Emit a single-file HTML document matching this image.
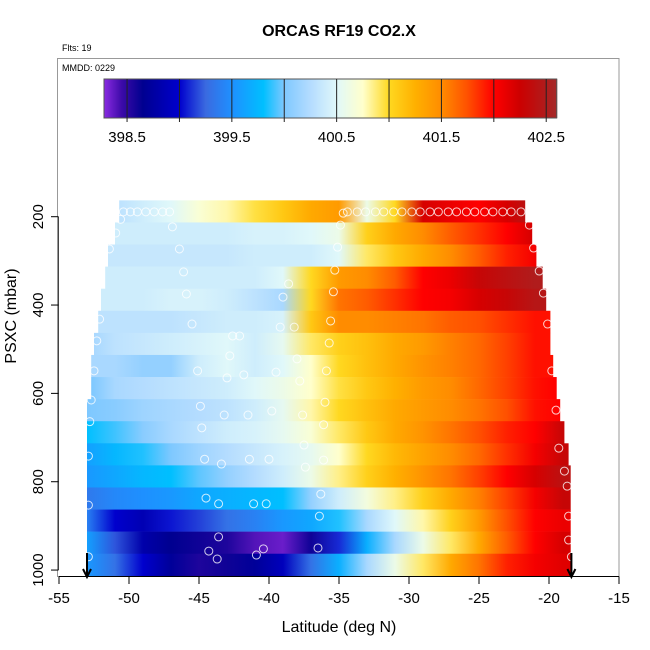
<!DOCTYPE html>
<html><head><meta charset="utf-8"><style>
body{margin:0;background:#fff;width:650px;height:650px;overflow:hidden}
svg{display:block;font-family:"Liberation Sans",Arial,sans-serif}
</style></head><body>
<svg id="chart" width="650" height="650" viewBox="0 0 650 650" xmlns="http://www.w3.org/2000/svg">
<rect width="650" height="650" fill="#fff"/>
<text x="339" y="36" text-anchor="middle" font-size="16" font-weight="bold">ORCAS RF19 CO2.X</text>
<text x="62" y="51" font-size="9">Flts: 19</text>
<text x="62" y="71" font-size="9">MMDD: 0229</text>
<g id="heat"></g>
<g id="pts"></g>
<g id="cbar"></g>
<g id="axes"></g>
<text x="339" y="632" text-anchor="middle" font-size="16">Latitude (deg N)</text>
<text transform="translate(16,316) rotate(-90)" text-anchor="middle" font-size="16">PSXC (mbar)</text>
</svg>
<script>
const lonNodes=[-53,-51,-49,-47,-45,-43,-41,-39,-37,-35,-33,-31,-29,-27,-25,-23,-21,-19];
const rowPressureTop=[163,213,263,313,363,413,463,513,563,613,663,713,763,813,863,913,963];
const rowLeft=[-50.7,-51.0,-51.5,-51.7,-52.0,-52.2,-52.5,-52.7,-52.7,-53,-53,-53,-53,-53,-53,-53,-53];
const rowRight=[-21.7,-21.2,-20.9,-20.45,-20.2,-19.9,-19.9,-19.7,-19.45,-19.2,-18.9,-18.6,-18.45,-18.45,-18.45,-18.45,-18.45];
const row0=[400.3,400.3,400.4,400.5,400.7,400.8,400.95,401.1,401.3,401.4,400.6,401.0,402.2,402.1,402.0,402.2,402.4,402.4];
const row1=[400.4,400.4,400.4,400.4,400.4,400.4,400.45,400.45,400.5,400.6,401.05,401.3,401.5,401.7,401.85,402.0,402.2,402.2];
const row2=[400.35,400.35,400.35,400.35,400.35,400.35,400.4,400.4,400.4,400.5,400.9,401.1,401.3,401.5,401.7,401.9,402.05,402.05];
const row3=[400.4,400.4,400.4,400.4,400.4,400.4,400.4,400.5,401.0,401.4,401.5,401.7,402.0,402.1,402.3,402.4,402.5,402.5];
const row4=[400.4,400.4,400.4,400.45,400.45,400.4,400.3,400.2,401.0,401.6,401.7,401.85,402.0,402.05,402.2,402.3,402.45,402.45];
const row5=[400.3,400.3,400.3,400.3,400.35,400.4,400.4,400.45,401.1,401.5,401.5,401.55,401.6,401.7,401.75,401.85,401.95,401.95];
const row6=[400.2,400.3,400.35,400.4,400.45,400.5,400.4,400.55,400.9,401.05,401.15,401.3,401.4,401.55,401.65,401.8,401.95,401.95];
const row7=[400.2,400.2,400.1,400.1,400.4,400.5,400.4,400.5,400.75,401.0,401.15,401.3,401.45,401.55,401.65,401.8,401.95,401.95];
const row8=[400.0,400.2,400.25,400.3,400.35,400.4,400.5,400.6,400.75,400.95,401.1,401.25,401.4,401.5,401.65,401.8,401.95,402.0];
const row9=[400.0,400.05,400.15,400.2,400.25,400.3,400.4,400.55,400.8,401.0,401.15,401.3,401.4,401.5,401.6,401.75,401.95,402.0];
const row10=[399.8,399.9,400.05,400.2,400.3,400.4,400.45,400.55,400.7,400.9,401.1,401.3,401.45,401.6,401.75,401.9,402.0,402.3];
const row11=[399.6,399.75,399.85,400.0,400.15,400.25,400.35,400.45,400.55,400.75,401.0,401.2,401.35,401.5,401.65,401.85,402.05,402.3];
const row12=[399.55,399.65,399.75,399.8,399.95,400.1,400.25,400.4,400.6,400.85,401.05,401.25,401.45,401.6,401.8,402.0,402.2,402.4];
const row13=[399.35,399.45,399.5,399.55,399.65,399.7,399.75,399.8,400.1,400.4,400.65,400.85,401.05,401.3,401.55,401.8,402.05,402.3];
const row14=[399.4,399.0,398.85,399.05,399.15,399.3,399.4,399.55,399.65,399.85,400.2,400.5,400.8,401.05,401.4,401.75,402.0,402.1];
const row15=[399.6,399.2,398.8,398.65,398.6,398.55,398.4,398.35,398.6,399.1,399.7,400.2,400.6,400.9,401.3,401.7,402.0,402.2];
const row16=[399.55,399.3,399.0,398.7,398.55,398.6,398.7,398.9,399.3,399.7,400.2,400.6,400.9,401.3,401.6,401.9,402.05,402.15];
const rowValues=[row0,row1,row2,row3,row4,row5,row6,row7,row8,row9,row10,row11,row12,row13,row14,row15,row16];
const pointLon=[-50.4,-49.9,-49.4,-48.8,-48.2,-47.6,-47.1,-34.4,-33.7,-33.1,-32.4,-31.8,-31.1,-30.5,-29.8,-29.2,-28.5,-27.9,-27.2,-26.6,-25.9,-25.3,-24.6,-24.0,-23.3,-22.7,-22.0,
-50.6,-46.9,-50.95,-34.9,-34.7,-46.4,-35.1,-51.4,-46.1,-35.3,-20.7,-38.6,-45.9,-39.0,-35.4,-20.4,-52.1,-45.5,-39.2,-38.2,-35.6,-20.1,-52.3,-42.6,-42.1,-35.7,-42.8,-38.0,-52.5,-45.1,-39.5,-35.9,-19.8,-43.0,-41.8,-37.8,-21.4,-21.1,
-52.7,-44.9,-36.0,-19.5,-43.2,-41.5,-39.8,-37.6,-52.8,-44.8,-36.1,-37.5,-19.3,-52.9,-44.6,-43.4,-41.4,-40.0,-36.1,-37.4,-18.9,-18.7,-36.3,-44.5,-43.6,-41.1,-40.2,-52.9,-36.4,-18.6,-43.6,-44.3,-40.4,-36.5,-18.6,-52.9,-43.7,-40.9,-18.4];
const pointP=[189,189,189,189,189,189,189,189,189,189,189,189,189,189,189,189,189,189,189,189,189,189,189,189,189,189,189,
206,223,237,219,192,273,269,273,325,321,323,352,375,382,370,373,432,443,450,450,436,443,481,470,470,486,515,522,549,549,552,549,549,565,558,572,219,271,
615,629,620,638,649,649,640,649,664,678,671,717,724,742,749,760,749,749,751,767,776,810,828,837,850,850,850,853,878,878,925,957,952,950,932,970,975,966,970];
const xTicks=[-55,-50,-45,-40,-35,-30,-25,-20,-15];
const yTicks=[200,400,600,800,1000];
const cbarTicks=[398.5,399,399.5,400,400.5,401,401.5,402,402.5];
const cbarLabels=["398.5","399.5","400.5","401.5","402.5"];
const arrowLon=[-53,-18.4];
const cmapVal=[398.28,398.45,398.65,399.0,399.25,399.5,399.8,400.0,400.25,400.5,400.75,401.0,401.25,401.5,401.75,402.0,402.25,402.5,402.6];
const cmapCol=["#8a2be2","#3c0aa8","#000090","#0000cd","#3a6ae0","#1e90ff","#00bfff","#7ec8ff","#b4dcff","#e0f8fa","#ffffcc","#ffd820","#ffb000","#ff8c00","#ff5000","#ff0000","#cc0000","#b01c1c","#a52a2a"];

const NS="http://www.w3.org/2000/svg";
const X0=59,PXDEG=14,Y200=216.7,PXMB=0.4417;
const xs=lon=>X0+(lon+55)*PXDEG;
const ys=p=>Y200+(p-200)*PXMB;
function hex(c){return [parseInt(c.slice(1,3),16),parseInt(c.slice(3,5),16),parseInt(c.slice(5,7),16)];}
function color(v){
  if(v<=cmapVal[0])return cmapCol[0];
  for(let i=1;i<cmapVal.length;i++){
    if(v<=cmapVal[i]){const t=(v-cmapVal[i-1])/(cmapVal[i]-cmapVal[i-1]);const a=hex(cmapCol[i-1]),b=hex(cmapCol[i]);
      return "rgb("+a.map((q,k)=>Math.round(q+(b[k]-q)*t)).join(",")+")";}
  }
  return cmapCol[cmapCol.length-1];
}
function mk(tag,attrs,parent){const e=document.createElementNS(NS,tag);for(const k in attrs)e.setAttribute(k,attrs[k]);parent.appendChild(e);return e;}
const svg=document.getElementById('chart');
const defs=mk('defs',{},svg);
const heat=document.getElementById('heat');
rowValues.forEach((vals,i)=>{
  const x1=xs(rowLeft[i]),x2=xs(rowRight[i]);
  const g=mk('linearGradient',{id:'rg'+i,gradientUnits:'userSpaceOnUse',x1:x1,x2:x2,y1:0,y2:0},defs);
  lonNodes.forEach((ln,j)=>{
    let off=(xs(ln)-x1)/(x2-x1);off=Math.max(0,Math.min(1,off));
    mk('stop',{offset:off,'stop-color':color(vals[j])},g);
  });
  const r=mk('rect',{x:x1,y:ys(rowPressureTop[i]),width:x2-x1,height:ys(rowPressureTop[i]+50)-ys(rowPressureTop[i])+0.3,fill:'url(#rg'+i+')'},heat);
  
  
});
const pts=document.getElementById('pts');
pointLon.forEach((ln,i)=>{
  const c=mk('circle',{cx:xs(ln),cy:ys(pointP[i]),r:4,fill:'none',stroke:'#ffffff','stroke-opacity':0.8,'stroke-width':1},pts);
  
  
});
arrowLon.forEach(ln=>{
  const x=xs(ln);
  const a=mk('path',{d:`M${x},553 L${x},577 M${x-4},569 L${x},577 L${x+4},569`,stroke:'#000','stroke-width':2,fill:'none'},pts);
  
  
});
// color legend
const cb=document.getElementById('cbar');
const CB0=104,CB1=556.7,CBV0=398.28,CBV1=402.6;
const cbx=v=>CB0+(v-CBV0)/(CBV1-CBV0)*(CB1-CB0);
for(let x=CB0;x<CB1;x+=1){
  const v=CBV0+(x+0.5-CB0)/(CB1-CB0)*(CBV1-CBV0);
  mk('rect',{x:x,y:79,width:1.2,height:39,fill:color(v)},cb);
}
mk('rect',{x:CB0,y:79,width:CB1-CB0,height:39,fill:'none',stroke:'#555','stroke-width':1},cb);
cbarTicks.forEach(v=>{const t=mk('line',{x1:cbx(v),x2:cbx(v),y1:79,y2:122,stroke:'#222','stroke-width':1},cb);
  
  });
cbarLabels.forEach(s=>{const t=mk('text',{x:cbx(parseFloat(s)),y:142,'text-anchor':'middle','font-size':15},cb);t.textContent=s;
  
  });
// axes
const ax=document.getElementById('axes');
mk('rect',{x:57.5,y:58.5,width:561.5,height:518,fill:'none',stroke:'#999','stroke-width':1},ax);
mk('line',{x1:xs(-55),x2:xs(-15),y1:576.5,y2:576.5,stroke:'#000'},ax);
mk('line',{x1:58.5,x2:58.5,y1:ys(200),y2:ys(1000),stroke:'#444'},ax);
xTicks.forEach(v=>{mk('line',{x1:xs(v),x2:xs(v),y1:576.5,y2:584,stroke:'#000'},ax);
  const t=mk('text',{x:xs(v),y:603,'text-anchor':'middle','font-size':15},ax);t.textContent=v;
  
  });
yTicks.forEach(v=>{mk('line',{x1:51,x2:58.5,y1:ys(v),y2:ys(v),stroke:'#000'},ax);
  const t=mk('text',{transform:`translate(43,${ys(v)}) rotate(-90)`,'text-anchor':'middle','font-size':15},ax);t.textContent=v;
  
  });
</script>
</body></html>
